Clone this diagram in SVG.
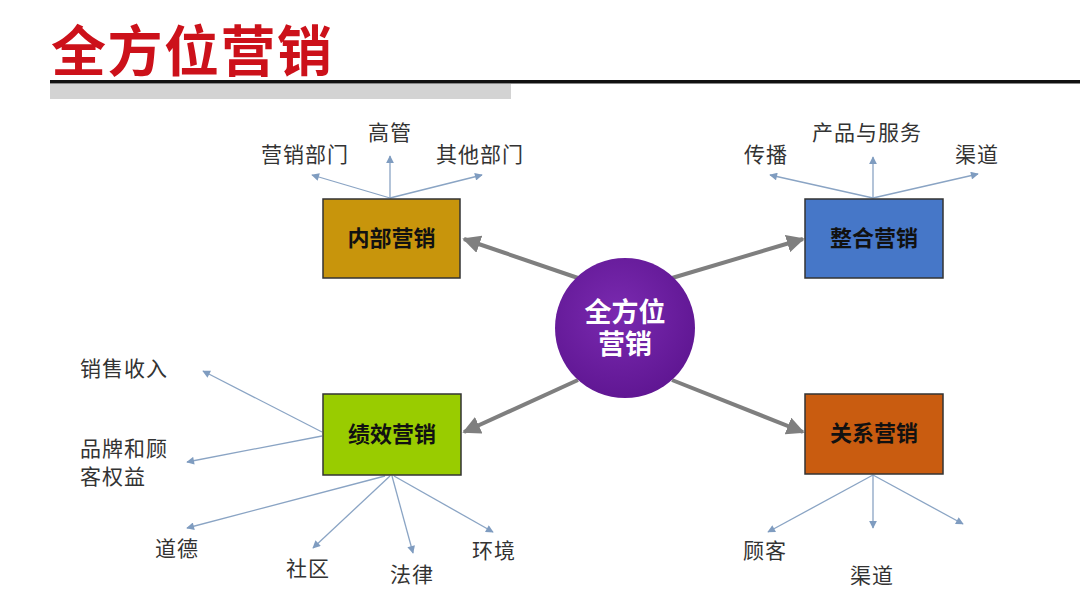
<svg xmlns="http://www.w3.org/2000/svg" width="1080" height="592" viewBox="0 0 1080 592">
<defs>
<style>
.title{font-family:"Liberation Sans","Noto Sans CJK SC",sans-serif;font-weight:bold;font-size:55px;fill:#cc111a}
.box{stroke:#333;stroke-width:1.5}
.bt{font-family:"Liberation Sans","Noto Sans CJK SC",sans-serif;font-weight:bold;font-size:22px;fill:#111;text-anchor:middle}
.ct{font-family:"Liberation Sans","Noto Sans CJK SC",sans-serif;font-weight:bold;font-size:27px;fill:#fff;text-anchor:middle}
.lb{font-family:"Liberation Sans","Noto Sans CJK SC",sans-serif;font-size:21px;fill:#333;letter-spacing:1px}
.thick{stroke:#7f7f7f;stroke-width:4;fill:none;marker-end:url(#big)}
.thin{stroke:#8aa4c4;stroke-width:1.3;fill:none;marker-end:url(#small)}
</style>
<marker id="big" viewBox="0 0 10 10" refX="9" refY="5" markerWidth="4.5" markerHeight="4.5" orient="auto" markerUnits="strokeWidth">
<path d="M0,0 L10,5 L0,10 z" fill="#7f7f7f"/>
</marker>
<marker id="small" viewBox="0 0 10 10" refX="9" refY="5" markerWidth="7" markerHeight="6" orient="auto" markerUnits="strokeWidth">
<path d="M0,0 L10,5 L0,10 z" fill="#7f9cc0"/>
</marker>
<radialGradient id="cg" cx="0.45" cy="0.4" r="0.65">
<stop offset="0" stop-color="#7a2ab0"/>
<stop offset="1" stop-color="#5e1591"/>
</radialGradient>
</defs>
<rect width="1080" height="592" fill="#ffffff"/>
<g id="header">
<text class="title" x="51" y="71" letter-spacing="1.5">全方位营销</text>
<rect x="50" y="84" width="461" height="15" fill="#d3d3d3"/>
<rect x="50" y="80" width="1030" height="3.5" fill="#111"/>
</g>
<g id="connectors">
<line class="thick" x1="578" y1="278" x2="464" y2="239"/>
<line class="thick" x1="672" y1="278" x2="803" y2="239"/>
<line class="thick" x1="578" y1="380" x2="464" y2="432"/>
<line class="thick" x1="672" y1="380" x2="803" y2="432"/>
<line class="thin" x1="390" y1="198" x2="312" y2="175"/>
<line class="thin" x1="390" y1="198" x2="390" y2="156"/>
<line class="thin" x1="390" y1="198" x2="482" y2="175"/>
<line class="thin" x1="873" y1="198" x2="770" y2="175"/>
<line class="thin" x1="873" y1="198" x2="873" y2="157"/>
<line class="thin" x1="873" y1="198" x2="978" y2="174"/>
<line class="thin" x1="322" y1="432" x2="203" y2="371"/>
<line class="thin" x1="322" y1="436" x2="187" y2="462"/>
<line class="thin" x1="385" y1="476" x2="187" y2="528"/>
<line class="thin" x1="390" y1="476" x2="313" y2="548"/>
<line class="thin" x1="392" y1="476" x2="413" y2="553"/>
<line class="thin" x1="394" y1="476" x2="493" y2="532"/>
<line class="thin" x1="873" y1="475" x2="768" y2="532"/>
<line class="thin" x1="873" y1="475" x2="873" y2="528"/>
<line class="thin" x1="873" y1="475" x2="963" y2="524"/>
</g>
<g id="center">
<circle cx="625" cy="328" r="70" fill="url(#cg)"/>
<text class="ct" x="625" y="322">全方位</text>
<text class="ct" x="625" y="354">营销</text>
</g>
<g id="internal">
<rect class="box" x="323" y="199" width="137" height="79" fill="#c8950c"/>
<text class="bt" x="391.5" y="246">内部营销</text>
</g>
<g id="integrated">
<rect class="box" x="805" y="199" width="138" height="79" fill="#4677c8"/>
<text class="bt" x="874" y="246">整合营销</text>
</g>
<g id="performance">
<rect class="box" x="323" y="394" width="138" height="81" fill="#99cc00"/>
<text class="bt" x="392" y="442">绩效营销</text>
</g>
<g id="relationship">
<rect class="box" x="805" y="394" width="138" height="80" fill="#c95c10"/>
<text class="bt" x="874" y="441">关系营销</text>
</g>
<g id="labels">
<text class="lb" x="261" y="162">营销部门</text>
<text class="lb" x="368" y="140">高管</text>
<text class="lb" x="436" y="162">其他部门</text>
<text class="lb" x="744" y="162">传播</text>
<text class="lb" x="812" y="140">产品与服务</text>
<text class="lb" x="955" y="162">渠道</text>
<text class="lb" x="80" y="376">销售收入</text>
<text class="lb" x="80" y="456">品牌和顾</text>
<text class="lb" x="80" y="484">客权益</text>
<text class="lb" x="155" y="556">道德</text>
<text class="lb" x="286" y="576">社区</text>
<text class="lb" x="390" y="582">法律</text>
<text class="lb" x="472" y="558">环境</text>
<text class="lb" x="743" y="558">顾客</text>
<text class="lb" x="850" y="583">渠道</text>
</g>
</svg>
